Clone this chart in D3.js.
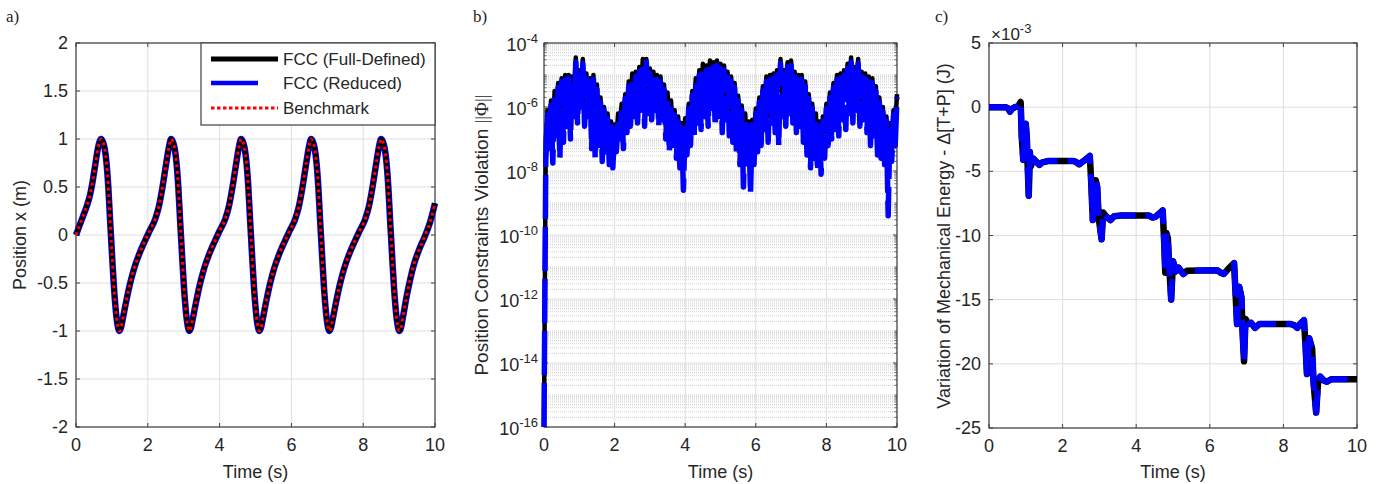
<!DOCTYPE html>
<html>
<head>
<meta charset="utf-8">
<script src="https://cdn.jsdelivr.net/npm/d3@7"></script>
<style>
  body { margin: 0; background: #fff; }
  svg text { font-family: "Liberation Sans", Arial, sans-serif; fill: #262626; }
</style>
</head>
<body>
<svg id="chart" width="1381" height="484"></svg>
<script>
// ---- data ----
// a) position x (m) over time (s)
const aTime = [0, 0.1, 0.2, 0.3, 0.38, 0.46, 0.54, 0.62, 0.70,
  0.75, 0.80, 0.85, 0.90, 0.95, 1.00, 1.05, 1.10, 1.15, 1.21,
  1.25, 1.31, 1.41, 1.51, 1.61, 1.76, 1.91, 2.06, 2.21, 2.31, 2.41, 2.51, 2.59, 2.65,
  2.70, 2.75, 2.80, 2.85, 2.90, 2.95, 3.00, 3.05, 3.10, 3.16,
  3.20, 3.26, 3.36, 3.46, 3.56, 3.71, 3.86, 4.01, 4.16, 4.26, 4.36, 4.46, 4.54, 4.60,
  4.65, 4.70, 4.75, 4.80, 4.85, 4.90, 4.95, 5.00, 5.05, 5.11,
  5.15, 5.21, 5.31, 5.41, 5.51, 5.66, 5.81, 5.96, 6.11, 6.21, 6.31, 6.41, 6.49, 6.55,
  6.60, 6.65, 6.70, 6.75, 6.80, 6.85, 6.90, 6.95, 7.00, 7.06,
  7.10, 7.16, 7.26, 7.36, 7.46, 7.61, 7.76, 7.91, 8.06, 8.16, 8.26, 8.36, 8.44, 8.50,
  8.55, 8.60, 8.65, 8.70, 8.75, 8.80, 8.85, 8.90, 8.95, 9.01,
  9.05, 9.11, 9.21, 9.31, 9.41, 9.56, 9.71, 9.86, 10.0];
const aPos = [0, 0.1, 0.2, 0.3, 0.4, 0.55, 0.74, 0.92, 1.0,
  0.97, 0.90, 0.75, 0.50, 0.15, -0.18, -0.50, -0.75, -0.92, -1.0,
  -0.97, -0.86, -0.67, -0.50, -0.36, -0.20, -0.07, 0.05, 0.17, 0.30, 0.50, 0.74, 0.92, 1.0,
  0.97, 0.90, 0.75, 0.50, 0.15, -0.18, -0.50, -0.75, -0.92, -1.0,
  -0.97, -0.86, -0.67, -0.50, -0.36, -0.20, -0.07, 0.05, 0.17, 0.30, 0.50, 0.74, 0.92, 1.0,
  0.97, 0.90, 0.75, 0.50, 0.15, -0.18, -0.50, -0.75, -0.92, -1.0,
  -0.97, -0.86, -0.67, -0.50, -0.36, -0.20, -0.07, 0.05, 0.17, 0.30, 0.50, 0.74, 0.92, 1.0,
  0.97, 0.90, 0.75, 0.50, 0.15, -0.18, -0.50, -0.75, -0.92, -1.0,
  -0.97, -0.86, -0.67, -0.50, -0.36, -0.20, -0.07, 0.05, 0.17, 0.30, 0.50, 0.74, 0.92, 1.0,
  0.97, 0.90, 0.75, 0.50, 0.15, -0.18, -0.50, -0.75, -0.92, -1.0,
  -0.97, -0.85, -0.64, -0.46, -0.31, -0.15, -0.02, 0.13, 0.33];

// b) constraint violation, log10 of ||Phi||, one sample every 0.05 s
const bStep = 0.05;
const bBlackExp = [-16, -7.0,
  -6.1, -6.6, -5.8, -6.9, -5.5, -6.3, -5.25, -6.0, -5.1, -6.4,
  -5.0, -5.8, -5.0, -6.6, -5.05, -5.6, -4.45, -5.7, -4.85, -5.4,
  -4.5, -5.9, -4.95, -6.2, -5.1, -5.8, -5.0, -6.6, -5.3, -7.1,
  -5.7, -6.9, -6.0, -7.3, -6.2, -7.2, -6.45, -7.5, -6.55, -7.0,
  -6.2, -6.6, -5.9, -6.5, -5.6, -6.1, -5.2, -5.8, -4.95, -5.6,
  -4.9, -5.7, -4.75, -5.4, -4.5, -5.5, -4.5, -5.9, -4.8, -5.6,
  -4.9, -6.0, -5.0, -6.2, -5.05, -5.9, -5.3, -6.6, -5.55, -6.5,
  -5.8, -7.0, -6.1, -7.2, -6.3, -7.5, -6.5, -7.6, -6.35, -6.9,
  -5.9, -6.6, -5.5, -6.0, -5.1, -6.2, -4.85, -5.7, -4.65, -5.5,
  -4.7, -5.9, -4.55, -5.6, -4.6, -5.5, -4.55, -6.0, -4.65, -5.6,
  -4.7, -5.9, -4.9, -6.2, -5.05, -5.9, -5.25, -6.6, -5.65, -7.0,
  -5.95, -7.4, -6.2, -7.6, -6.45, -7.7, -6.4, -7.1, -6.05, -6.8,
  -5.7, -6.5, -5.35, -6.1, -5.05, -6.3, -5.0, -5.8, -4.95, -6.1,
  -4.85, -5.5, -4.5, -5.7, -4.85, -5.4, -4.6, -5.8, -4.55, -5.5,
  -4.9, -6.0, -5.0, -5.9, -5.0, -6.3, -5.2, -6.5, -5.6, -7.0,
  -5.9, -6.8, -6.2, -7.3, -6.45, -7.2, -6.3, -6.8, -5.9, -6.6,
  -5.55, -6.3, -5.25, -6.1, -5.0, -5.8, -4.95, -6.0, -4.85, -5.6,
  -4.65, -5.5, -4.45, -5.8, -4.75, -5.4, -4.5, -5.9, -4.9, -5.7,
  -4.95, -6.1, -5.05, -6.2, -5.1, -6.0, -5.35, -6.6, -5.7, -6.8,
  -6.0, -7.3, -6.3, -7.4, -6.5, -7.6, -6.1, -6.6, -5.6];
const bBlueExp = [-16, -7.7,
  -6.25, -7.3, -5.95, -7.75, -5.6, -6.9, -5.4, -7.6, -5.2, -7.1,
  -5.15, -6.6, -5.1, -7.0, -5.2, -6.3, -4.6, -6.5, -5.0, -6.0,
  -4.65, -6.6, -5.1, -6.3, -5.2, -7.3, -5.15, -7.6, -5.45, -7.2,
  -5.85, -7.7, -6.1, -7.4, -6.35, -7.8, -6.6, -7.9, -6.7, -7.4,
  -6.35, -7.0, -6.0, -7.3, -5.75, -6.8, -5.35, -6.6, -5.1, -6.3,
  -5.05, -6.5, -4.9, -6.1, -4.65, -6.6, -4.6, -6.2, -4.95, -6.4,
  -5.05, -6.1, -5.15, -6.6, -5.2, -6.4, -5.45, -7.0, -5.7, -7.4,
  -5.95, -7.2, -6.25, -7.6, -6.45, -7.9, -6.65, -8.6, -6.5, -7.5,
  -6.05, -7.2, -5.65, -7.0, -5.25, -6.5, -5.0, -6.7, -4.8, -6.3,
  -4.85, -6.6, -4.7, -6.2, -4.75, -6.6, -4.7, -6.3, -4.8, -6.8,
  -4.85, -6.4, -5.05, -6.9, -5.2, -7.1, -5.4, -7.4, -5.8, -7.8,
  -6.1, -8.5, -6.35, -7.9, -6.6, -8.7, -6.55, -7.8, -6.2, -7.4,
  -5.85, -7.2, -5.5, -6.7, -5.2, -7.1, -5.15, -6.5, -5.1, -6.8,
  -5.0, -7.2, -4.65, -6.3, -5.0, -6.6, -4.75, -6.2, -4.7, -6.5,
  -5.05, -6.8, -5.15, -6.6, -5.15, -7.1, -5.35, -7.5, -5.75, -7.9,
  -6.05, -7.6, -6.35, -8.0, -6.6, -8.1, -6.45, -7.6, -6.05, -7.2,
  -5.7, -7.0, -5.4, -6.7, -5.15, -6.9, -5.1, -6.4, -5.0, -6.7,
  -4.8, -6.2, -4.6, -6.5, -4.9, -6.1, -4.65, -6.6, -5.05, -6.4,
  -5.1, -6.8, -5.2, -7.2, -5.25, -6.9, -5.5, -7.5, -5.85, -7.6,
  -6.15, -7.8, -6.45, -9.4, -6.65, -7.7, -6.25, -7.2, -5.7];

// c) variation of mechanical energy (x1e-3 J)
const cTime = [0, 0.45, 0.52, 0.57, 0.62, 0.7, 0.8, 0.86, 0.89, 0.93, 0.97, 1.0, 1.03, 1.05, 1.08,
  1.11, 1.14, 1.2, 1.3, 1.37, 1.45, 1.6, 2.3, 2.38, 2.45, 2.52, 2.62, 2.74, 2.78, 2.82, 2.86,
  2.9, 2.94, 2.98, 3.06, 3.1, 3.18, 3.3, 3.4, 3.6, 4.35, 4.45, 4.52, 4.62, 4.72, 4.76, 4.79,
  4.82, 4.86, 4.9, 4.95, 5.0, 5.08, 5.15, 5.28, 5.38, 6.2, 6.3, 6.38, 6.5, 6.66, 6.7, 6.74,
  6.8, 6.86, 6.89, 6.93, 6.97, 7.05, 7.12, 7.23, 7.35, 8.2, 8.3, 8.38, 8.45, 8.56, 8.6, 8.64,
  8.7, 8.78, 8.82, 8.89, 8.94, 9.0, 9.1, 9.18, 9.3, 10];
const cEnergy = [0, 0, -0.1, -0.35, -0.15, 0, 0.1, 0.4, -2.3, -4.1, -2.0, -1.3, -2.5, -4.5, -6.9,
  -3.5, -4.6, -4.0, -4.3, -4.5, -4.3, -4.2, -4.2, -4.3, -4.45, -4.3, -4.1, -3.8, -6.0, -8.8, -6.5,
  -5.7, -6.2, -8.6, -10.3, -8.2, -8.5, -8.8, -8.5, -8.45, -8.45, -8.6, -8.55, -8.3, -8.05, -10.5, -12.9,
  -9.8, -10.2, -12.5, -15.0, -12.0, -12.8, -12.5, -13.0, -12.75, -12.7, -12.9, -13.0, -12.6, -12.15, -14.5, -16.9,
  -14.0, -14.8, -17.5, -19.8, -16.5, -16.9, -16.8, -17.2, -16.9, -16.9, -17.0, -17.2, -16.9, -16.6, -18.5, -20.8,
  -18.0, -18.8, -21.5, -23.8, -21.5, -21.0, -21.3, -21.4, -21.2, -21.2];

const xTicks = [0, 2, 4, 6, 8, 10];
const aYTicks = [-2, -1.5, -1, -0.5, 0, 0.5, 1, 1.5, 2];
const bYTickExps = [-16, -14, -12, -10, -8, -6, -4];
const cYTicks = [-25, -20, -15, -10, -5, 0, 5];
const legendNames = ["FCC (Full-Defined)", "FCC (Reduced)", "Benchmark"];

// ---- drawing ----
const svg = d3.select("#chart");
const axisCol = "#404040";
const gridCol = "#dedede";

function drawFrame(p, x, y, yTicks, yFmt) {
  const g = svg.append("g");
  // major grid
  g.selectAll(".gx").data(xTicks).enter().append("line")
    .attr("x1", d => x(d)).attr("x2", d => x(d))
    .attr("y1", p.top).attr("y2", p.bottom)
    .attr("stroke", gridCol).attr("stroke-width", 1);
  g.selectAll(".gy").data(yTicks).enter().append("line")
    .attr("x1", p.left).attr("x2", p.right)
    .attr("y1", d => y(d)).attr("y2", d => y(d))
    .attr("stroke", gridCol).attr("stroke-width", 1);
  // box
  g.append("rect")
    .attr("x", p.left).attr("y", p.top)
    .attr("width", p.right - p.left).attr("height", p.bottom - p.top)
    .attr("fill", "none").attr("stroke", axisCol).attr("stroke-width", 1.2);
  // ticks inside, all four sides
  xTicks.forEach(d => {
    g.append("line").attr("x1", x(d)).attr("x2", x(d)).attr("y1", p.bottom).attr("y2", p.bottom - 4)
      .attr("stroke", axisCol);
    g.append("line").attr("x1", x(d)).attr("x2", x(d)).attr("y1", p.top).attr("y2", p.top + 4)
      .attr("stroke", axisCol);
    g.append("text").attr("x", x(d)).attr("y", p.bottom + 24)
      .attr("text-anchor", "middle").style("font-size", "18px").text(d);
  });
  yTicks.forEach(d => {
    g.append("line").attr("x1", p.left).attr("x2", p.left + 4).attr("y1", y(d)).attr("y2", y(d))
      .attr("stroke", axisCol);
    g.append("line").attr("x1", p.right).attr("x2", p.right - 4).attr("y1", y(d)).attr("y2", y(d))
      .attr("stroke", axisCol);
    if (yFmt) {
      g.append("text").attr("x", p.left - 8).attr("y", y(d) + 6)
        .attr("text-anchor", "end").style("font-size", "18px").text(yFmt(d));
    }
  });
  // x label
  g.append("text").attr("x", (p.left + p.right) / 2).attr("y", 478)
    .attr("text-anchor", "middle").style("font-size", "18px").text("Time (s)");
  return g;
}

function panelLetter(x, s) {
  svg.append("text").attr("x", x).attr("y", 22)
    .style("font-family", "'Liberation Serif', 'Times New Roman', serif")
    .style("font-size", "17px").text(s);
}

function yLabel(x, yc, txt, size) {
  return svg.append("text")
    .attr("transform", `translate(${x},${yc}) rotate(-90)`)
    .attr("text-anchor", "middle").style("font-size", size + "px").text(txt);
}

// ===== panel a =====
const pa = {left: 76, right: 435, top: 43, bottom: 427};
const xa = d3.scaleLinear().domain([0, 10]).range([pa.left, pa.right]);
const ya = d3.scaleLinear().domain([-2, 2]).range([pa.bottom, pa.top]);
drawFrame(pa, xa, ya, aYTicks, d => String(d));
const lineA = d3.line().x(d => xa(d[0])).y(d => ya(d[1])).curve(d3.curveMonotoneX);
const aPts = aTime.map((t, i) => [t, aPos[i]]);
svg.append("path").attr("d", lineA(aPts)).attr("fill", "none")
  .attr("stroke", "#0000ff").attr("stroke-width", 6.5);
svg.append("path").attr("d", lineA(aPts)).attr("fill", "none")
  .attr("stroke", "#000").attr("stroke-width", 4.5);
svg.append("path").attr("d", lineA(aPts)).attr("fill", "none")
  .attr("stroke", "#ff0000").attr("stroke-width", 3).attr("stroke-dasharray", "3,3.5");

// legend
const lg = svg.append("g");
lg.append("rect").attr("x", 201).attr("y", 43).attr("width", 234).attr("height", 82)
  .attr("fill", "#fff").attr("stroke", axisCol).attr("stroke-width", 1.2);
const legendY = [59, 83, 108];
lg.append("line").attr("x1", 211).attr("x2", 278).attr("y1", legendY[0]).attr("y2", legendY[0])
  .attr("stroke", "#000").attr("stroke-width", 5);
lg.append("line").attr("x1", 211).attr("x2", 258).attr("y1", legendY[1]).attr("y2", legendY[1])
  .attr("stroke", "#0000ff").attr("stroke-width", 4.5);
lg.append("line").attr("x1", 211).attr("x2", 278).attr("y1", legendY[2]).attr("y2", legendY[2])
  .attr("stroke", "#ff0000").attr("stroke-width", 3).attr("stroke-dasharray", "3.5,2.5");
legendNames.forEach((n, i) => {
  lg.append("text").attr("x", 283).attr("y", legendY[i] + 6).style("font-size", "17px").text(n);
});
yLabel(26, 235, "Position x (m)", 18);
panelLetter(6, "a)");

// ===== panel b =====
const pb = {left: 544, right: 897, top: 43, bottom: 427};
const xb = d3.scaleLinear().domain([0, 10]).range([pb.left, pb.right]);
const yb = d3.scaleLog().domain([1e-16, 1e-4]).range([pb.bottom, pb.top]);
// minor log grid (dotted)
const minorVals = [];
for (let e = -16; e < -4; e++) {
  for (let k = 1; k <= 9; k++) {
    if (k === 1 && e % 2 === 0) continue;
    minorVals.push(k * Math.pow(10, e));
  }
}
svg.append("g").selectAll("line").data(minorVals).enter().append("line")
  .attr("x1", pb.left).attr("x2", pb.right)
  .attr("y1", d => yb(d)).attr("y2", d => yb(d))
  .attr("stroke", "#cfcfcf").attr("stroke-width", 1).attr("stroke-dasharray", "1,1");
const bTickVals = bYTickExps.map(e => Math.pow(10, e));
const gb = drawFrame(pb, xb, yb, bTickVals, null);
// minor ticks
minorVals.forEach(v => {
  gb.append("line").attr("x1", pb.left).attr("x2", pb.left + 2.5).attr("y1", yb(v)).attr("y2", yb(v))
    .attr("stroke", axisCol).attr("stroke-width", 0.8);
  gb.append("line").attr("x1", pb.right).attr("x2", pb.right - 2.5).attr("y1", yb(v)).attr("y2", yb(v))
    .attr("stroke", axisCol).attr("stroke-width", 0.8);
});
bYTickExps.forEach(e => {
  const t = gb.append("text").attr("x", pb.left - 6).attr("y", yb(Math.pow(10, e)) + 8)
    .attr("text-anchor", "end").style("font-size", "18px");
  t.append("tspan").text("10");
  t.append("tspan").attr("dy", -8).style("font-size", "13px").text(String(e));
});
svg.append("clipPath").attr("id", "clipb").append("rect")
  .attr("x", pb.left - 3).attr("y", pb.top).attr("width", pb.right - pb.left + 6).attr("height", pb.bottom - pb.top);
const lineB = d3.line().x(d => xb(d[0])).y(d => yb(d[1]));
const bBlackPts = bBlackExp.map((e, i) => [i * bStep, Math.pow(10, e)]);
const bBluePts = bBlueExp.map((e, i) => [i * bStep, Math.pow(10, e)]);
svg.append("path").attr("clip-path", "url(#clipb)").attr("d", lineB(bBlackPts)).attr("fill", "none")
  .attr("stroke", "#000").attr("stroke-width", 4.5).attr("stroke-linejoin", "round");
svg.append("path").attr("clip-path", "url(#clipb)").attr("d", lineB(bBluePts)).attr("fill", "none")
  .attr("stroke", "#0000ff").attr("stroke-width", 5.5).attr("stroke-linejoin", "round")
  .attr("stroke-dasharray", "44,8");
const lb = yLabel(488, 235, "Position Constraints Violation ", 19);
lb.append("tspan").style("font-family", "'Liberation Serif', serif").text("||Φ||");
panelLetter(473, "b)");

// ===== panel c =====
const pc = {left: 989, right: 1357, top: 43, bottom: 428};
const xc = d3.scaleLinear().domain([0, 10]).range([pc.left, pc.right]);
const yc = d3.scaleLinear().domain([-25, 5]).range([pc.bottom, pc.top]);
drawFrame(pc, xc, yc, cYTicks, d => String(d));
const lineC = d3.line().x(d => xc(d[0])).y(d => yc(d[1]));
const cPts = cTime.map((t, i) => [t, cEnergy[i]]);
svg.append("path").attr("d", lineC(cPts)).attr("fill", "none")
  .attr("stroke", "#000").attr("stroke-width", 6.5).attr("stroke-linejoin", "round");
svg.append("path").attr("d", lineC(cPts)).attr("fill", "none")
  .attr("stroke", "#0000ff").attr("stroke-width", 6).attr("stroke-linejoin", "round")
  .attr("stroke-dasharray", "34,10");
const mult = svg.append("text").attr("x", 991).attr("y", 40).style("font-size", "17px");
mult.append("tspan").text("×10");
mult.append("tspan").attr("dy", -7).style("font-size", "13px").text("-3");
yLabel(950, 236, "Variation of Mechanical Energy - Δ[T+P] (J)", 18);
panelLetter(935, "c)");
</script>
</body>
</html>
